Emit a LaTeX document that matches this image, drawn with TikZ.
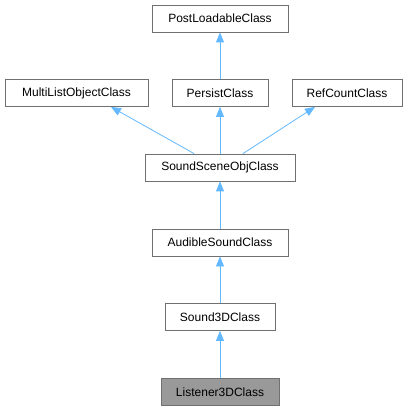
\documentclass[tikz,border=0pt]{standalone}
\usepackage{fontspec}
\setmainfont{Liberation Sans}
\usetikzlibrary{arrows.meta}

\definecolor{edgeblue}{HTML}{63B8FF}
\definecolor{boxgray}{HTML}{707070}
\tikzset{
  cls/.style={draw=boxgray,fill=white,line width=0.8pt,minimum height=27pt,inner sep=0pt,font=\fontsize{12}{14}\selectfont},
  base/.style={cls,fill=black!40},
  inherit/.style={edgeblue,line width=0.8pt,-{Triangle[length=10pt,width=8pt]}}
}

\begin{document}
\begin{tikzpicture}[x=1pt,y=-1pt]
  \useasboundingbox (0,0) rectangle (410,411);

  \node[cls,minimum width=136pt] (post) at (220,18.5) {PostLoadableClass};
  \node[cls,minimum width=143pt] (multi) at (76.5,93) {MultiListObjectClass};
  \node[cls,minimum width=96pt] (persist) at (220,93) {PersistClass};
  \node[cls,minimum width=110pt] (refcount) at (347,93) {RefCountClass};
  \node[cls,minimum width=150pt] (scene) at (220,167.5) {SoundSceneObjClass};
  \node[cls,minimum width=136pt] (audible) at (220,242.5) {AudibleSoundClass};
  \node[cls,minimum width=110pt] (sound3d) at (220,317) {Sound3DClass};
  \node[base,minimum width=118pt] (listener) at (220,392) {Listener3DClass};

  \draw[inherit] (persist) -- (post);
  \draw[inherit] ([xshift=-26pt]scene.north) -- ([xshift=34.5pt]multi.south);
  \draw[inherit] (scene) -- (persist);
  \draw[inherit] ([xshift=23pt]scene.north) -- ([xshift=-32pt]refcount.south);
  \draw[inherit] (audible) -- (scene);
  \draw[inherit] (sound3d) -- (audible);
  \draw[inherit] (listener) -- (sound3d);
\end{tikzpicture}
\end{document}
